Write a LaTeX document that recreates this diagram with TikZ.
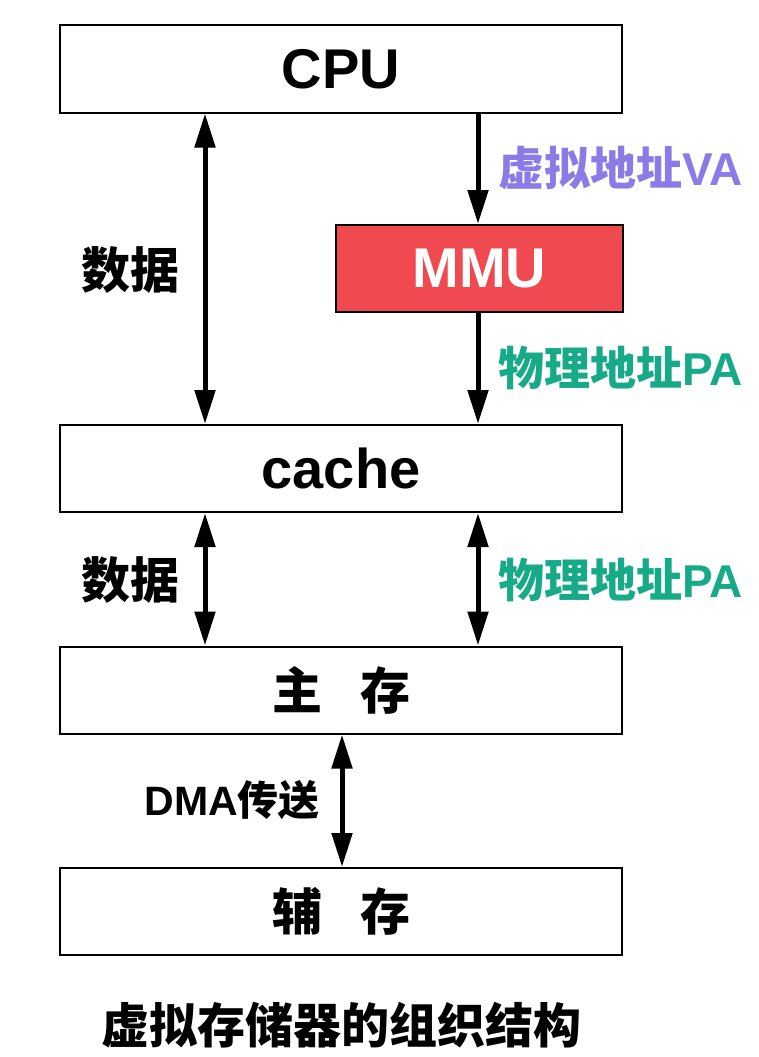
\documentclass[tikz,border=0pt]{standalone}
\usepackage{fontspec}
\setmainfont{Liberation Sans}
\newfontfamily\cjk{Noto Sans CJK SC}
\usetikzlibrary{arrows.meta}
\definecolor{vapurple}{HTML}{8A7BE6}
\definecolor{pateal}{HTML}{16AA88}
\definecolor{mmured}{HTML}{F04A50}
\tikzset{
  blk/.style={draw=black, line width=2pt, fill=white, minimum width=562pt, minimum height=87pt, inner sep=0pt},
  lat/.style={font=\fontsize{56}{60}\selectfont\bfseries},
  cj/.style={font=\fontsize{50}{56}\selectfont\cjk\bfseries},
  lbl/.style={font=\fontsize{46}{50}\selectfont\bfseries, inner sep=0pt},
  conn/.style={line width=5pt, -{Triangle[length=34pt,width=20pt]}},
  dconn/.style={line width=5pt, {Triangle[length=34pt,width=20pt]}-{Triangle[length=34pt,width=20pt]}},
}
\begin{document}
\begin{tikzpicture}[x=1pt,y=-1pt]
\useasboundingbox[fill=white] (0,0) rectangle (759,1057);
\node[blk, lat] (cpu) at (341,69) {CPU};
\node[blk, lat, fill=mmured, text=white, minimum width=287pt] (mmu) at (479.5,268.5) {MMU};
\node[blk, lat] (cache) at (341,468.5) {cache};
\node[blk, cj] (mem) at (341,690) {主\hspace{38pt}存};
\node[blk, cj] (disk) at (341,911.5) {辅\hspace{38pt}存};
\coordinate (xl) at (205,0);
\coordinate (xr) at (478,0);
\coordinate (xm) at (342,0);
\draw[dconn] (cpu.south -| xl) -- (cache.north -| xl);
\draw[conn] (cpu.south -| xr) -- (mmu.north -| xr);
\draw[conn] (mmu.south -| xr) -- (cache.north -| xr);
\draw[dconn] (cache.south -| xl) -- (mem.north -| xl);
\draw[dconn] (cache.south -| xr) -- (mem.north -| xr);
\draw[dconn] (mem.south -| xm) -- (disk.north -| xm);
\node[lbl, text=vapurple, anchor=west] (va) at (498,168) {{\cjk 虚拟地址}VA};
\node[lbl, text=pateal, anchor=west] (pa1) at (498,368) {{\cjk 物理地址}PA};
\node[lbl, text=pateal, anchor=west] (pa2) at (498,580) {{\cjk 物理地址}PA};
\node[lbl, anchor=center, font=\fontsize{49}{54}\selectfont\bfseries] (d1) at (130,270) {\cjk 数据};
\node[lbl, anchor=center, font=\fontsize{49}{54}\selectfont\bfseries] (d2) at (130,580) {\cjk 数据};
\node[lbl, anchor=east, font=\fontsize{41}{46}\selectfont\bfseries] (dma) at (320,800) {DMA{\cjk 传送}};
\node[font=\fontsize{48}{54}\selectfont\cjk\bfseries] (cap) at (341,1025) {虚拟存储器的组织结构};
\end{tikzpicture}
\end{document}
